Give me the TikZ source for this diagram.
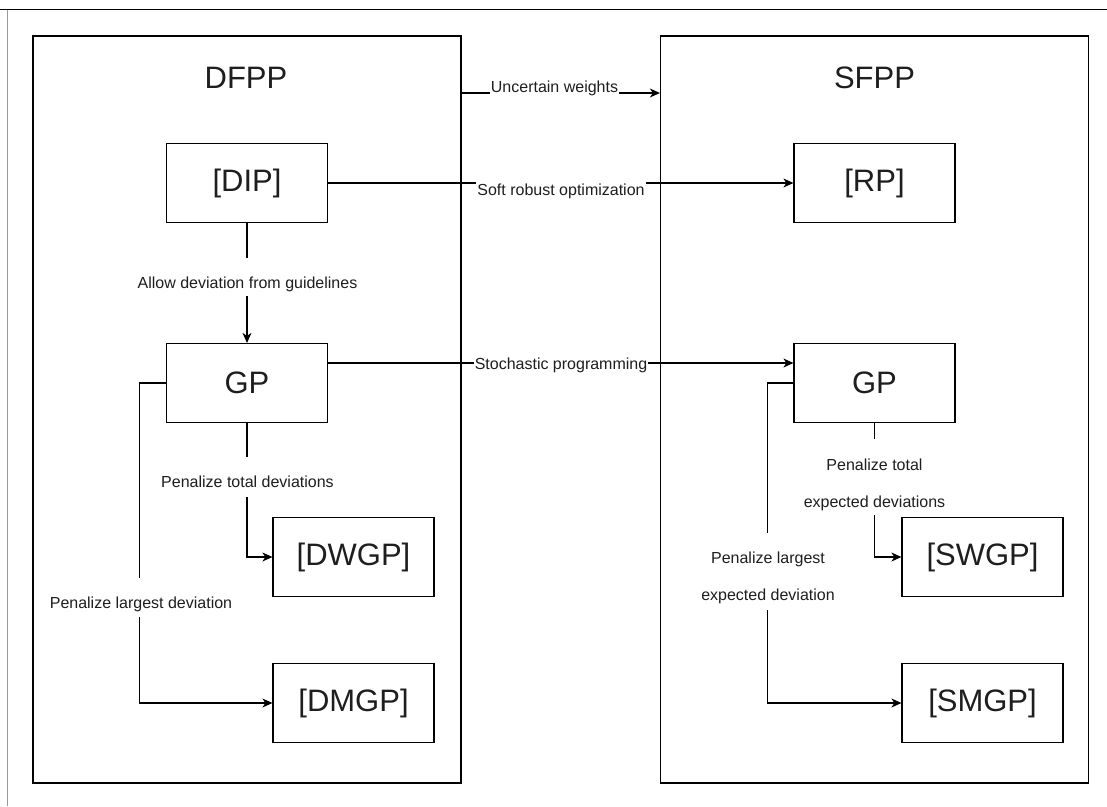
\documentclass[tikz,border=0pt]{standalone}
\usepackage{fontspec}
\setmainfont{Liberation Sans}
\usetikzlibrary{arrows.meta}
\definecolor{txt}{HTML}{1E1E1E}
\definecolor{frame}{HTML}{9A9A9A}
\begin{document}
\begin{tikzpicture}[x=1pt,y=-1pt,
  container/.style={draw, line width=1.2pt, minimum width=428, minimum height=747, inner sep=0},
  boxnode/.style={draw, line width=1.2pt, minimum width=161, minimum height=79, inner sep=0,
    text=txt, font=\fontsize{31}{37}\selectfont},
  title/.style={anchor=base, inner sep=0, text=txt, font=\fontsize{31}{37}\selectfont},
  conn/.style={line width=1.1pt},
  arr/.style={conn, -{Stealth[length=10pt,width=9pt,inset=3pt]}},
  lbl/.style={fill=white, inner xsep=1pt, inner ysep=0, text=txt, font=\fontsize{16}{19}\selectfont},
  vlbl/.style={lbl, align=center}
]
\useasboundingbox (0,0) rectangle (1107,806);
% outer frame fragments
\draw[line width=1.5pt] (0,9.5) -- (1107,9.5);
\draw[frame, line width=1pt] (7,10) -- (7,806);

% containers
\node[container] (leftc) at (247,409.5) {};
\node[container] (rightc) at (874.5,409.5) {};
\node[title] (dfpp) at (246,88) {DFPP};
\node[title] (sfpp) at (874.5,88) {SFPP};

% boxes
\node[boxnode] (dip) at (247,183) {[DIP]};
\node[boxnode] (gpL) at (247,383) {GP};
\node[boxnode] (dwgp) at (353.5,557) {[DWGP]};
\node[boxnode] (dmgp) at (353.5,703) {[DMGP]};
\node[boxnode] (rp) at (874.5,183) {[RP]};
\node[boxnode] (gpR) at (874.5,383) {GP};
\node[boxnode] (swgp) at (982.5,557) {[SWGP]};
\node[boxnode] (smgp) at (982.5,703) {[SMGP]};

% connectors
\draw[arr] (leftc.east |- 0,93) -- (rightc.west |- 0,93);
\draw[arr] (dip.east) -- (rp.west);
\draw[arr] (gpL.east |- 0,363) -- (gpR.west |- 0,363);
\draw[arr] (dip.south) -- (gpL.north);
\draw[arr] (gpL.south) |- (dwgp.west);
\draw[arr] (gpL.west) -- ++(-26,0) |- (dmgp.west);
\draw[arr] (gpR.south) |- (swgp.west);
\draw[arr] (gpR.west) -- ++(-26,0) |- (smgp.west);

% labels
\node[lbl, anchor=base] (l1) at (554.5,92) {\rule{0pt}{13pt}Uncertain weights};
\node[lbl, anchor=base] (l2) at (561,195) {\rule{0pt}{13pt}Soft robust optimization};
\node[lbl, anchor=base] (l3) at (561,369) {\rule{0pt}{13pt}Stochastic programming};
\node[lbl, anchor=base] (l4) at (247.5,288) {\rule[-8pt]{0pt}{38pt}Allow deviation from guidelines};
\node[lbl, anchor=base] (l5) at (247.5,487) {\rule[-10pt]{0pt}{40pt}Penalize total deviations};
\node[lbl, anchor=base] (l6) at (141,608) {\rule[-9pt]{0pt}{39pt}Penalize largest deviation};
\node[vlbl, anchor=north] (l7) at (874.5,439) {\rule{0pt}{31pt}Penalize total\\[18pt]expected deviations\rule[-8pt]{0pt}{8pt}};
\node[vlbl, anchor=north] (l8) at (768,533) {\rule{0pt}{30pt}Penalize largest\\[18pt]expected deviation\rule[-10pt]{0pt}{10pt}};
\end{tikzpicture}
\end{document}
